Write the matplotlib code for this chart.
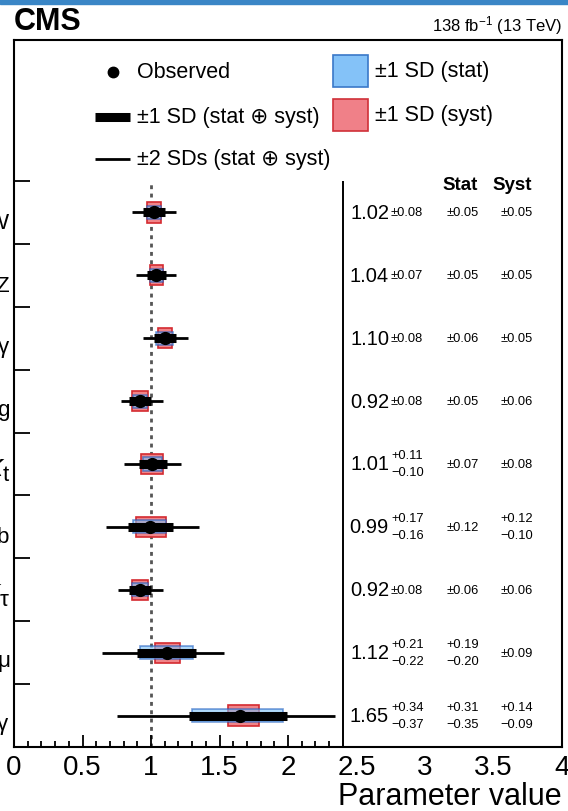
import matplotlib
matplotlib.use("Agg")
import matplotlib.pyplot as plt
from matplotlib.patches import Rectangle
from matplotlib.lines import Line2D

plt.rcParams['font.family'] = ['Liberation Sans', 'DejaVu Sans']
plt.rcParams['mathtext.fontset'] = 'custom'
plt.rcParams['mathtext.rm'] = 'Liberation Sans'
plt.rcParams['mathtext.it'] = 'Liberation Sans:italic'
plt.rcParams['mathtext.bf'] = 'Liberation Sans:bold'

# Coupling modifiers, listed top to bottom
params = [r'\mathrm{W}', r'\mathrm{Z}', r'\mathrm{\gamma}', r'\mathrm{g}', r'\mathrm{t}',
          r'\mathrm{b}', r'\mathrm{\tau}', r'\mathrm{\mu}', r'\mathrm{Z\gamma}']
best = [1.02, 1.04, 1.10, 0.92, 1.01, 0.99, 0.92, 1.12, 1.65]
tot_hi = [0.08, 0.07, 0.08, 0.08, 0.11, 0.17, 0.08, 0.21, 0.34]
tot_lo = [0.08, 0.07, 0.08, 0.08, 0.10, 0.16, 0.08, 0.22, 0.37]
stat_hi = [0.05, 0.05, 0.06, 0.05, 0.07, 0.12, 0.06, 0.19, 0.31]
stat_lo = [0.05, 0.05, 0.06, 0.05, 0.07, 0.12, 0.06, 0.20, 0.35]
syst_hi = [0.05, 0.05, 0.05, 0.06, 0.08, 0.12, 0.06, 0.09, 0.14]
syst_lo = [0.05, 0.05, 0.05, 0.06, 0.08, 0.10, 0.06, 0.09, 0.09]
# 2 SD (stat + syst) interval edges
two_sd_lo = [0.86, 0.89, 0.94, 0.78, 0.80, 0.67, 0.76, 0.64, 0.75]
two_sd_hi = [1.18, 1.18, 1.27, 1.09, 1.22, 1.35, 1.09, 1.53, 2.34]

xtick_vals = [0, 0.5, 1, 1.5, 2, 2.5, 3, 3.5, 4]
xtick_labels = ['0', '0.5', '1', '1.5', '2', '2.5', '3', '3.5', '4']

W, H = 568, 812
fig = plt.figure(figsize=(W / 100, H / 100), dpi=100)

# thin header band across the top
fig.patches.append(Rectangle((0, 1 - 5 / H), 1, 5 / H, transform=fig.transFigure,
                             color='#3a86c6', zorder=0))

AX_L, AX_R, AX_T, AX_B = 14, 562, 41, 748
ax = fig.add_axes([AX_L / W, 1 - AX_B / H, (AX_R - AX_L) / W, (AX_B - AX_T) / H])

n = len(params)
row_px = (AX_B - 182) / n
ytop = (AX_B - AX_T) / row_px
ax.set_xlim(0, 4)
ax.set_ylim(0, ytop)
xpx = (AX_R - AX_L) / 4.0


def px2data(x, y):
    return (x - AX_L) / xpx, (AX_B - y) / row_px


ys = [n - 1 - i + 0.5 for i in range(n)]

# vertical reference and separator lines
ax.vlines(1.0, 0, n, colors='#555555', linestyles=(0, (1.4, 1.6)), lw=2.0, zorder=1)
sep_x = px2data(343, 0)[0]
ax.vlines(sep_x, 0, n, colors='black', lw=1.4, zorder=1)

# syst (red) and stat (blue) bands
ax.barh(ys, [h + l for h, l in zip(syst_hi, syst_lo)],
        left=[b - l for b, l in zip(best, syst_lo)], height=0.32,
        color='#f08488', edgecolor='#d42a30', lw=1.2, zorder=2)
ax.barh(ys, [h + l for h, l in zip(stat_hi, stat_lo)],
        left=[b - l for b, l in zip(best, stat_lo)], height=0.21,
        color='#7cc0f6', alpha=0.6, edgecolor='#1f5fc0', lw=1.2, zorder=3)

# 2 SD and 1 SD total intervals, observed points
ax.hlines(ys, two_sd_lo, two_sd_hi, colors='black', lw=2.0, zorder=4)
ax.hlines(ys, [b - l for b, l in zip(best, tot_lo)], [b + h for b, h in zip(best, tot_hi)],
          colors='black', lw=6.5, zorder=5)
ax.plot(best, ys, 'o', color='black', ms=8.5, zorder=6)

# axes styling
for s in ax.spines.values():
    s.set_linewidth(1.5)
ax.set_xticks(xtick_vals)
ax.set_xticklabels(xtick_labels, fontsize=20)
ax.set_xticks([v / 10 for v in range(1, 24) if v % 5], minor=True)
ax.tick_params(axis='x', which='major', direction='in', length=8.5, width=1.3, pad=5)
ax.tick_params(axis='x', which='minor', direction='in', length=4.5, width=1.3)
for v, t in zip(xtick_vals, ax.xaxis.get_major_ticks()):
    if v > 2.3:
        t.tick1line.set_visible(False)
    t.tick2line.set_visible(False)

ax.set_yticks(ys)
ax.set_yticklabels([r'$\kappa_{' + p + '}$' for p in params], fontsize=23)
ax.tick_params(axis='y', which='major', length=0, pad=3)
ax.set_yticks(list(range(1, n + 1)), minor=True)
ax.tick_params(axis='y', which='minor', direction='in', length=11.5, width=1.3)


def fmt(v):
    return f'{v:.2f}'


# numeric summary columns
xv = px2data(389, 0)[0]
xu = px2data(391, 0)[0]
xstat = px2data(463, 0)[0]
xsyst = px2data(517, 0)[0]
dy = 8.5 / row_px
for i, y in enumerate(ys):
    ax.text(xv, y, fmt(best[i]), ha='right', va='center', fontsize=14.5)
    if tot_hi[i] == tot_lo[i]:
        ax.text(xu, y, '±' + fmt(tot_hi[i]), ha='left', va='center', fontsize=9.3)
    else:
        ax.text(xu, y + dy, '+' + fmt(tot_hi[i]), ha='left', va='center', fontsize=9.3)
        ax.text(xu, y - dy, '−' + fmt(tot_lo[i]), ha='left', va='center', fontsize=9.3)
    for xc, hi, lo in ((xstat, stat_hi[i], stat_lo[i]), (xsyst, syst_hi[i], syst_lo[i])):
        if hi == lo:
            ax.text(xc, y, '±' + fmt(hi), ha='center', va='center', fontsize=9.3)
        else:
            ax.text(xc, y + dy, '+' + fmt(hi), ha='center', va='center', fontsize=9.3)
            ax.text(xc, y - dy, '−' + fmt(lo), ha='center', va='center', fontsize=9.3)

hy = px2data(0, 186)[1]
ax.text(px2data(460, 0)[0], hy, 'Stat', ha='center', va='center', fontsize=13.5, fontweight='bold')
ax.text(px2data(512, 0)[0], hy, 'Syst', ha='center', va='center', fontsize=13.5, fontweight='bold')

# legend
lfs = 15.5
mx, my = px2data(113, 73)
ax.plot([mx], [my], 'o', color='black', ms=7.5, clip_on=False)
tx = px2data(137, 0)[0]
ax.text(tx, my, 'Observed', ha='left', va='center', fontsize=lfs)
x0, x1 = px2data(95, 0)[0], px2data(130, 0)[0]
ly = px2data(0, 118)[1]
ax.add_line(Line2D([x0, x1], [ly, ly], color='black', lw=6.5, solid_capstyle='butt'))
ax.text(tx, ly, '±1 SD (stat ⊕ syst)', ha='left', va='center', fontsize=lfs)
ly = px2data(0, 160)[1]
ax.add_line(Line2D([x0, x1], [ly, ly], color='black', lw=2.0, solid_capstyle='butt'))
ax.text(tx, ly, '±2 SDs (stat ⊕ syst)', ha='left', va='center', fontsize=lfs)

bx0, by0 = px2data(333, 88)
bx1, by1 = px2data(368, 56)
ax.add_patch(Rectangle((bx0, by0), bx1 - bx0, by1 - by0, facecolor='#84c2f8',
                       edgecolor='#3a78c8', lw=1.2))
ax.text(px2data(375, 0)[0], (by0 + by1) / 2, '±1 SD (stat)', ha='left', va='center', fontsize=lfs)
rx0, ry0 = px2data(333, 132)
rx1, ry1 = px2data(368, 100)
ax.add_patch(Rectangle((rx0, ry0), rx1 - rx0, ry1 - ry0, facecolor='#f08088',
                       edgecolor='#d03038', lw=1.2))
ax.text(px2data(375, 0)[0], (ry0 + ry1) / 2, '±1 SD (syst)', ha='left', va='center', fontsize=lfs)

# titles and axis label
fig.text(14 / W, 1 - 30 / H, 'CMS', ha='left', va='baseline', fontsize=22, fontweight='bold')
fig.text(562 / W, 1 - 31 / H, r'138 fb$^{-1}$ (13 TeV)', ha='right', va='baseline', fontsize=12)
fig.text(562 / W, 1 - 805 / H, 'Parameter value', ha='right', va='baseline', fontsize=22)

fig.savefig('out.png', dpi=100)
